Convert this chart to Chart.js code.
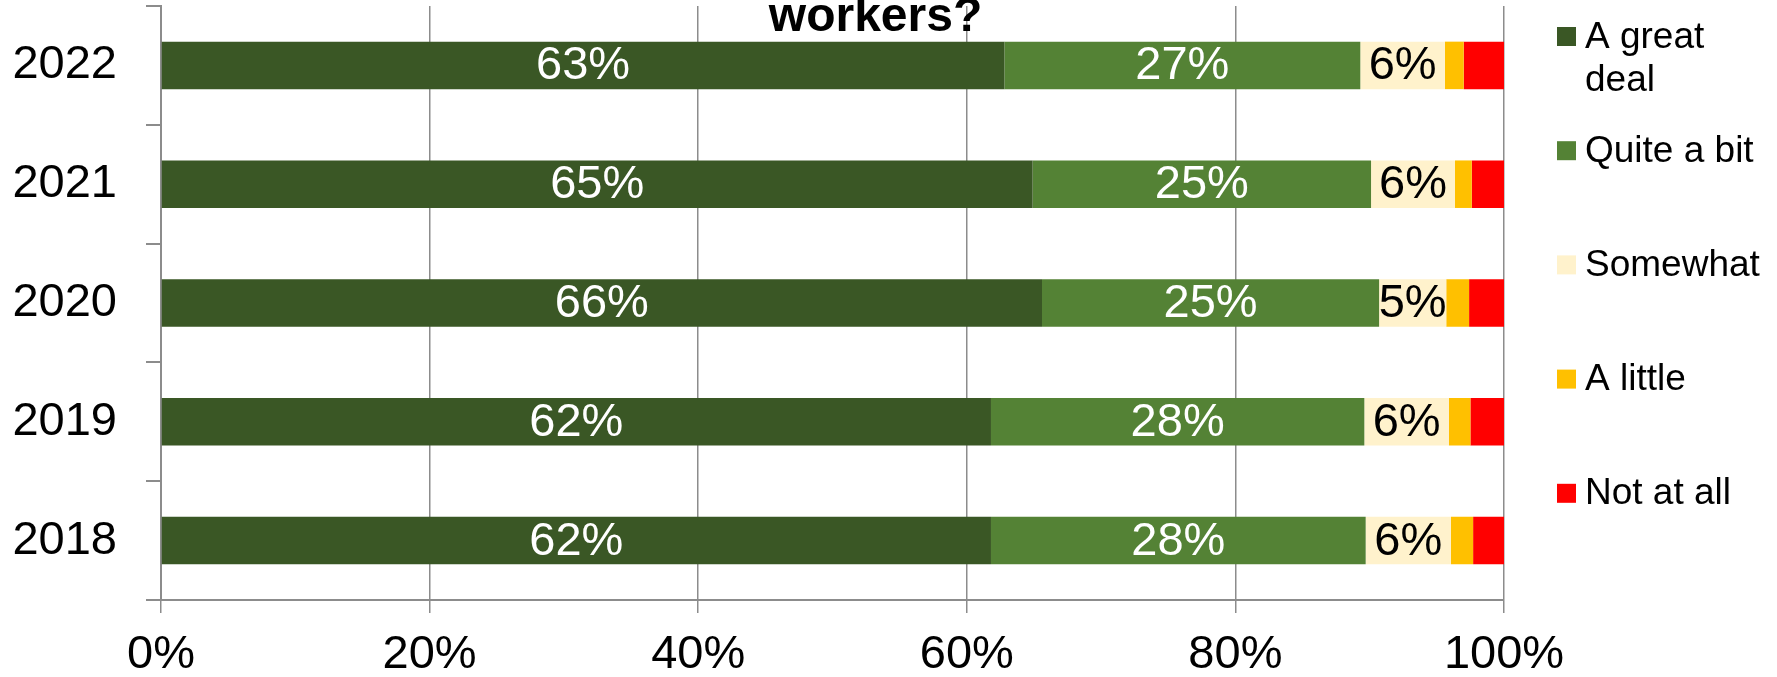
<!DOCTYPE html>
<html>
<head>
<meta charset="utf-8">
<script src="https://cdn.jsdelivr.net/npm/chart.js@4/dist/chart.umd.min.js"></script>
<style>
  html, body { margin: 0; padding: 0; background: #fff; }
  #wrap { width: 1777px; height: 677px; position: relative; }
</style>
</head>
<body>
<div id="wrap"><canvas id="chart"></canvas></div>
<script>
const years = ['2022', '2021', '2020', '2019', '2018'];
const seriesNames = ['A great deal', 'Quite a bit', 'Somewhat', 'A little', 'Not at all'];
const seriesColors = ['#3a5725', '#548235', '#fff2cc', '#ffc000', '#ff0000'];
const greatDeal = [62.8, 64.9, 65.6, 61.8, 61.8];
const quiteABit = [26.5, 25.2, 25.1, 27.8, 27.9];
const somewhat = [6.3, 6.25, 5.0, 6.3, 6.35];
const aLittle = [1.4, 1.25, 1.7, 1.6, 1.65];
const notAtAll = [3.0, 2.4, 2.6, 2.5, 2.3];
const xTicks = [0, 20, 40, 60, 80, 100];
const titleText = 'workers?';

const FONT = 'Arial, "Liberation Sans", sans-serif';
const GRID = '#8c8c8c';

// labels inside bar segments (first three series only)
const barLabels = {
  id: 'barLabels',
  afterDatasetsDraw(chart) {
    const ctx = chart.ctx;
    ctx.save();
    ctx.font = '47px ' + FONT;
    ctx.textAlign = 'center';
    ctx.textBaseline = 'middle';
    [0, 1, 2].forEach(i => {
      const meta = chart.getDatasetMeta(i);
      ctx.fillStyle = i < 2 ? '#fff' : '#000';
      meta.data.forEach((bar, j) => {
        const v = chart.data.datasets[i].data[j];
        ctx.fillText(Math.round(v) + '%', (bar.x + bar.base) / 2, bar.y + 1);
      });
    });
    ctx.restore();
  }
};

// legend on the right with word wrap, plus the cut-off title
const sideLegend = {
  id: 'sideLegend',
  afterDraw(chart) {
    const ctx = chart.ctx;
    ctx.save();
    ctx.font = '37px ' + FONT;
    ctx.textBaseline = 'alphabetic';
    ctx.textAlign = 'left';
    const maxW = 186;
    chart.data.datasets.forEach((ds, i) => {
      const cy = 36.5 + i * 114.2;
      ctx.fillStyle = ds.backgroundColor;
      ctx.fillRect(1557, cy - 9.5, 19, 19);
      // wrap words
      const lines = [];
      let cur = '';
      ds.label.split(' ').forEach(w => {
        const t = cur ? cur + ' ' + w : w;
        if (cur && ctx.measureText(t).width > maxW) { lines.push(cur); cur = w; } else cur = t;
      });
      lines.push(cur);
      ctx.fillStyle = '#000';
      lines.forEach((l, k) => ctx.fillText(l, 1585, cy + 11 + k * 43));
    });
    ctx.font = 'bold 48px ' + FONT;
    ctx.textAlign = 'center';
    ctx.fillText(titleText, 875.5, 30.5);
    ctx.restore();
  }
};

const values = [greatDeal, quiteABit, somewhat, aLittle, notAtAll];

new Chart(document.getElementById('chart'), {
  type: 'bar',
  data: {
    labels: years,
    datasets: seriesNames.map((name, i) => ({
      label: name,
      data: values[i],
      backgroundColor: seriesColors[i],
      borderWidth: 0,
      categoryPercentage: 1,
      barPercentage: 0.4,
    })),
  },
  options: {
    indexAxis: 'y',
    responsive: true,
    maintainAspectRatio: false,
    animation: false,
    layout: { padding: { left: 0, right: 273, top: 6, bottom: 0 } },
    plugins: { legend: { display: false }, tooltip: { enabled: false }, title: { display: false } },
    scales: {
      x: {
        stacked: true,
        min: 0,
        max: 100,
        afterBuildTicks: s => { s.ticks = xTicks.map(v => ({ value: v })); },
        afterFit: s => { s.height = 77; s.paddingLeft = 0; s.paddingRight = 0; },
        ticks: { callback: v => v + '%', font: { size: 47, family: FONT }, color: '#000', padding: 14, maxRotation: 0 },
        grid: { color: GRID, lineWidth: 1.5, tickLength: 13, drawOnChartArea: true },
        border: { color: GRID, width: 2 },
      },
      y: {
        stacked: true,
        afterFit: s => { s.width = 161; s.paddingTop = 0; s.paddingBottom = 0; },
        ticks: { font: { size: 47, family: FONT }, color: '#000', padding: 29 },
        grid: { offset: true, drawOnChartArea: false, color: GRID, lineWidth: 2, tickLength: 15 },
        border: { color: GRID, width: 2 },
      },
    },
  },
  plugins: [barLabels, sideLegend],
});
</script>
</body>
</html>
